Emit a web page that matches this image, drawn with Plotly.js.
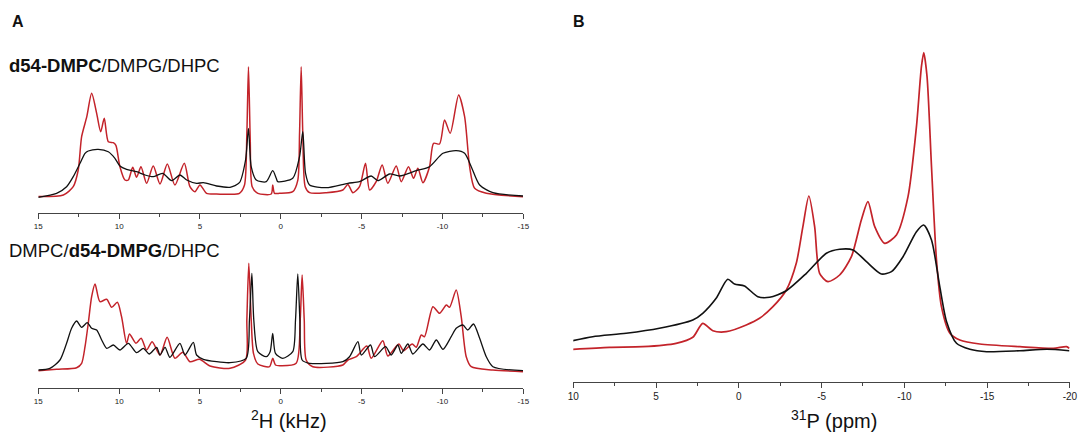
<!DOCTYPE html>
<html>
<head>
<meta charset="utf-8">
<script src="https://cdn.plot.ly/plotly-3.0.1.min.js"></script>
<style>html,body{margin:0;padding:0;background:#fff;}#chart{width:1084px;height:441px;}</style>
</head>
<body>
<div id="chart"></div>
<script>
// ---- Panel A (top): d54-DMPC/DMPG/DHPC, 2H spectra (kHz, arbitrary intensity)
var aTopRedX = [15,13.45,12.84,12.53,12.32,12.0,11.70,11.39,11.14,10.92,10.67,10.36,10.2,9.95,9.64,9.43,9.16,8.92,8.65,8.30,7.89,7.47,7.02,6.55,5.97,5.62,5.31,5.0,4.59,3.97,3.14,2.56,2.25,2.10,2.0,1.89,1.77,1.42,0.59,0.50,0.39,0.08,-0.74,-1.05,-1.16,-1.26,-1.36,-1.51,-1.78,-2.81,-3.84,-4.15,-4.46,-4.87,-5.24,-5.49,-5.90,-6.27,-6.62,-7.14,-7.45,-7.90,-8.21,-8.48,-8.79,-9.20,-9.45,-9.82,-10.13,-10.48,-11.0,-11.37,-11.68,-11.99,-12.71,-14.98];
var aTopRedY = [16.7,18.3,26.6,43.3,76.6,96.6,120,100,81.6,95,71.6,70.6,68,46.6,33.3,33.3,46,36,46.6,30,47.3,29.3,49.3,28.3,50,26.6,21.6,28.3,20,19.3,19,20,28,80,146.6,73,26.6,20,19.3,28.3,20,20,21.6,33,80,146.6,80,26.6,20.6,20.6,23.3,28.9,20.6,26.6,50,23.3,31.6,48.3,30,47.3,31.6,46.6,35,45,30.6,46.6,70,69.3,93.3,80,118.3,96.6,46.6,25,20,16.6];
var aTopBlackX = [15,13.87,13.25,12.84,12.42,12.11,11.91,11.29,10.67,10.26,9.95,9.54,8.92,8.40,7.89,7.31,6.75,6.24,5.82,5.21,4.79,3.97,3.14,2.56,2.18,2.0,1.83,1.52,0.90,0.50,0.28,0.19,-0.74,-1.16,-1.36,-1.53,-1.78,-2.81,-4.15,-4.87,-5.59,-6.00,-6.73,-7.35,-8.38,-9.20,-10.03,-10.85,-11.37,-11.78,-12.30,-13.12,-14.98];
var aTopBlackY = [16,20,26.6,36.6,50,60,62.3,64,61.6,55,47.3,44,41.6,38.3,36.6,40,32.6,38.3,33.3,30,30.6,27.3,26,30.6,53.3,85,46.6,33.3,31.6,42.6,35,31.6,35,56.6,81.6,40,28.3,25.6,30,31.6,37.3,32.6,39.3,37.3,42.6,46.6,60,62.6,60,46.6,28.3,20.6,17.3];

// ---- Panel A (bottom): DMPC/d54-DMPG/DHPC
var aBotRedX = [15,13.87,12.63,12.32,12.11,11.91,11.70,11.49,11.19,10.77,10.46,10.11,9.85,9.54,9.36,8.96,8.64,8.30,7.96,7.47,7.03,6.55,6.06,5.62,5.03,4.38,3.14,2.18,2.10,1.98,1.83,1.69,1.42,0.70,0.50,0.33,0.08,-0.95,-1.20,-1.32,-1.45,-1.57,-1.98,-3.84,-4.15,-4.67,-5.32,-5.59,-6.31,-6.62,-7.30,-7.59,-8.13,-8.38,-8.69,-8.89,-9.41,-9.82,-10.24,-10.44,-10.85,-11.16,-11.47,-11.78,-13.12,-14.98];
var aBotRedY = [17.6,19,20.6,25,41.6,65,91.6,104.3,86.6,89,81,86,71.6,45,54.3,45,50,38.3,46.6,33.3,51,30,36,26.6,29,22.3,20,28.3,68.3,125,68.3,35,24.3,21.6,30,23.3,22.6,25,68.3,113.3,68.3,28.3,21.6,23.3,28.3,31.6,42.3,30,47.6,32.3,44.3,37.6,44.3,41,53.3,51.6,81.6,75,83.3,81,98.3,71.6,31.6,21.6,18.3,16.6];
var aBotBlackX = [15,14.28,13.66,13.25,12.94,12.63,12.32,11.97,11.70,11.39,11.08,10.77,10.36,9.95,9.43,8.92,8.50,8.14,7.68,7.47,7.16,6.86,6.24,5.93,5.41,5.21,4.79,3.97,3.14,2.14,1.94,1.79,1.67,1.42,0.90,0.66,0.50,0.33,-0.12,-0.74,-0.91,-1.05,-1.18,-1.32,-1.78,-3.84,-4.25,-4.77,-4.98,-5.55,-5.80,-6.48,-6.83,-7.24,-7.45,-7.86,-8.17,-8.79,-9.20,-9.62,-10.03,-10.54,-10.85,-11.26,-11.57,-11.92,-12.30,-12.71,-13.12,-14.98];
var aBotBlackY = [18.3,20,28.3,45,60,67.3,61,65.6,60,58.3,48.3,40,43.3,38.3,45,35.6,40,34.3,41,33.3,41,31,45,33.3,46,33.3,29,26.6,25.6,30,68.3,115,68.3,36.6,31.6,36.6,55,35,30,36.6,68.3,114.3,68.3,28.3,25,26.6,31.6,46.6,33.3,43.3,31.6,41.6,33.3,43.3,35,44.3,34.3,44.3,38.3,48.3,39,51.6,60,63.3,58.3,64.3,50,31.6,21.6,17.6];

// ---- Panel B: 31P spectra (ppm, arbitrary intensity)
var bRedX = [10.04,7.82,5.81,3.79,2.78,2.18,1.57,0.76,-0.45,-1.25,-2.06,-2.87,-3.47,-3.87,-4.23,-4.58,-4.88,-5.38,-6.09,-6.80,-7.40,-7.80,-8.21,-8.81,-9.52,-10.22,-10.73,-11.03,-11.17,-11.37,-11.64,-11.94,-12.24,-12.75,-13.35,-14.56,-16.98,-19.0,-19.8,-19.96];
var bRedY = [32.4,34.4,35,38.4,44.4,58.4,51,50,56.7,63.4,75,91.7,118.4,155,185.7,155,108.4,100,106.7,125,161.7,180,155,138.4,146.7,185,255,315,329,305,215,121.7,75,48.4,41.7,37.7,35,33.4,35,33.4];
var bBlackX = [10.04,8.83,6.81,4.80,2.78,2.18,1.37,0.67,0.26,-0.34,-1.15,-1.86,-2.87,-4.08,-5.29,-6.09,-6.90,-7.71,-8.61,-9.22,-9.92,-10.73,-11.17,-11.64,-12.14,-12.55,-13.15,-13.96,-14.97,-16.98,-18.6,-19.96];
var bBlackY = [41,45,48.4,53.4,61.7,68.4,83.4,102.4,97.7,95.7,85,84.4,91,108.4,128.4,132.4,131.7,120,107.7,110,125,150,156.7,141.7,95,60,38.4,32.4,30,31,32.4,31];

var aTicks = [15,10,5,0,-5,-10,-15];
var bTicks = [10,5,0,-5,-10,-15,-20];

var W = 1084, H = 441;
function fx(p){return p/W;}
function fy(p){return 1-p/H;}

var RED = '#c3232a', BLACK = '#111111';
var FONT = 'Liberation Sans, Arial, Helvetica, sans-serif';

function tr(x,y,color,xa,ya,w){
  return {x:x,y:y,type:'scatter',mode:'lines',xaxis:xa,yaxis:ya,
    line:{color:color,width:w,shape:'spline',smoothing:0.7},hoverinfo:'skip',showlegend:false};
}
var data = [
  tr(aTopRedX,aTopRedY,RED,'x','y',1.5),
  tr(aTopBlackX,aTopBlackY,BLACK,'x','y',1.3),
  tr(aBotRedX,aBotRedY,RED,'x2','y2',1.5),
  tr(aBotBlackX,aBotBlackY,BLACK,'x2','y2',1.3),
  tr(bRedX,bRedY,RED,'x3','y3',1.7),
  tr(bBlackX,bBlackY,BLACK,'x3','y3',1.6)
];

function xax(dom,range,ticks,anchor,fs,minorDt){
  return {domain:dom,range:range,anchor:anchor,showline:true,linecolor:'#444',linewidth:1,
    ticks:'outside',ticklen:5,tickwidth:1,tickcolor:'#444',tickvals:ticks,ticktext:ticks.map(String),
    tickfont:{family:FONT,size:fs,color:'#222'},showgrid:false,zeroline:false,fixedrange:true,
    minor:{dtick:minorDt,ticks:'outside',ticklen:3,tickwidth:1,tickcolor:'#444',showgrid:false}};
}
function yax(dom,range,anchor){
  return {domain:dom,range:range,anchor:anchor,visible:false,showgrid:false,zeroline:false,fixedrange:true};
}
function ann(text,xp,yp,size,xanchor){
  return {text:text,x:fx(xp),y:fy(yp),xref:'paper',yref:'paper',xanchor:xanchor||'center',yanchor:'middle',
    showarrow:false,font:{size:size,family:FONT,color:'#111'}};
}

var layout = {
  width:W,height:H,margin:{l:0,r:0,t:0,b:0},paper_bgcolor:'#fff',plot_bgcolor:'rgba(0,0,0,0)',
  font:{family:FONT,color:'#111'},showlegend:false,
  xaxis: xax([fx(38.3),fx(523.3)],[15,-15],aTicks,'y',8,2.5),
  yaxis: yax([fy(213.3),fy(40)],[0,173.3],'x'),
  xaxis2: xax([fx(38.3),fx(523.3)],[15,-15],aTicks,'y2',8,2.5),
  yaxis2: yax([fy(388.3),fy(230)],[0,158.3],'x2'),
  xaxis3: xax([fx(573.3),fx(1069.9)],[10,-20],bTicks,'y3',10,2.5),
  yaxis3: yax([fy(381.7),fy(30)],[0,351.7],'x3'),
  annotations:[
    ann('<b>A</b>',17.5,21,16),
    ann('<b>B</b>',579,21,16),
    ann('<b>d54-DMPC</b>/DMPG/DHPC',7,65,18.5,'left'),
    ann('DMPC/<b>d54-DMPG</b>/DHPC',7,250,18.5,'left'),
    ann('<sup>2</sup>H (kHz)',289,419,20),
    ann('<sup>31</sup>P (ppm)',834,419,20)
  ]
};
Plotly.newPlot('chart',data,layout,{staticPlot:true,displayModeBar:false});
</script>
</body>
</html>
